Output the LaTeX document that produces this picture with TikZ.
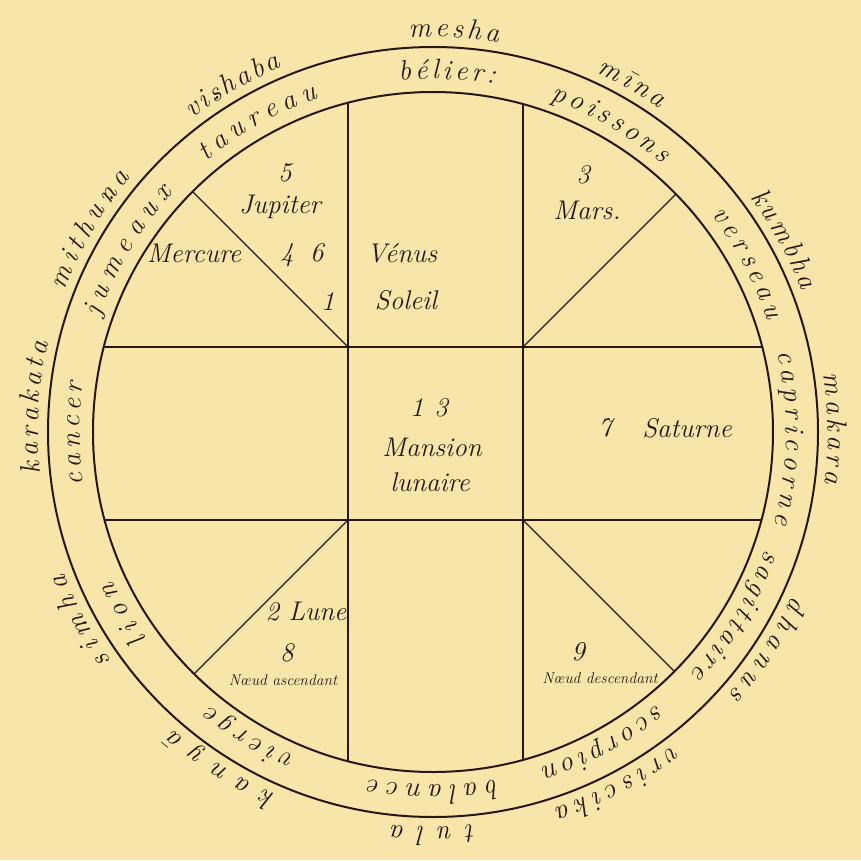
\documentclass[tikz,border=0pt]{standalone}
\usetikzlibrary{decorations.text}
\definecolor{paper}{RGB}{248,229,170}
\definecolor{ink}{RGB}{38,24,16}
\newcommand\udot[1]{\leavevmode\vtop{\offinterlineskip\halign{\hfil##\hfil\cr#1\cr\noalign{\kern-0.15em}.\cr}}}
\newcommand\ringfont{\itshape\fontsize{28}{28}\selectfont}
\newcommand\ringlabel[4]{%
  \path[decorate,decoration={text along path,text color=ink,
     text={|\ringfont|#4},text align=fit to path}]
     (#1:#3) arc[start angle=#1,end angle=#2,radius=#3];}
\begin{document}
\begin{tikzpicture}[x=1pt,y=1pt,
  lab/.style={text=ink,inner sep=0pt,font=\itshape\fontsize{27}{29}\selectfont},
  tiny/.style={text=ink,inner sep=0pt,font=\itshape\fontsize{15.5}{16}\selectfont},
  rim/.style={draw=ink,line width=2pt},
  grid/.style={draw=ink,line width=1.4pt}]
\fill[paper] (-433,-428) rectangle (428,432);
\useasboundingbox (-433,-428) rectangle (428,432);
% rings
\path[rim] (0,0) circle[radius=385];
\path[rim] (0,0) circle[radius=340];
% inner grid
\begin{scope}
\clip (0,0) circle[radius=340];
\path[grid] (-85,400) -- (-85,-400);
\path[grid] (90,400) -- (90,-400);
\path[grid] (-400,85) -- (400,85);
\path[grid] (-400,-88) -- (400,-88);
\path[grid] (-85,85) -- (-400,400);
\path[grid] (90,85) -- (405,400);
\path[grid] (-85,-88) -- (-397,-400);
\path[grid] (90,-88) -- (402,-400);
\end{scope}
% French names inside the ring
\ringlabel{95.5}{80}{353}{bélier:}
\ringlabel{70.5}{49.5}{353}{poissons}
\ringlabel{38}{18.5}{353}{verseau}
\ringlabel{13}{-15}{353}{capricorne}
\ringlabel{-19.5}{-43}{353}{sagittaire}
\ringlabel{-50.5}{-72}{353}{scorpion}
\ringlabel{-79.5}{-100.5}{353}{balance}
\ringlabel{-113}{-129}{353}{vierge}
\ringlabel{-144}{-155}{353}{lion}
\ringlabel{188.5}{172}{353}{cancer}
\ringlabel{161}{137.5}{353}{jumeaux}
\ringlabel{130}{109}{353}{taureau}
% Sanskrit names outside
\ringlabel{93.5}{80.5}{395}{mesha}
\ringlabel{65.5}{55}{395}{mīna}
\ringlabel{36.5}{21}{395}{kumbha}
\ringlabel{8.5}{-7.5}{395}{makara}
\ringlabel{-24.5}{-41.5}{395}{dhanus}
\ringlabel{-52.5}{-72}{395}{vriscika}
\ringlabel{-84}{-96}{395}{tula}
\ringlabel{-113.5}{-131}{395}{kanyā}
\ringlabel{-144.5}{-159}{395}{si{\udot{m}}ha}
\ringlabel{186}{167}{395}{karakata}
\ringlabel{159}{140}{395}{mithu{\udot{n}}a}
\ringlabel{127.5}{112.5}{395}{vi{\udot{s}}haba}
% interior texts
\node[lab] (n5) at (-148,259) {5};
\node[lab] (jup) at (-153,225) {Jupiter};
\node[lab] (mer) at (-239,179) {Mercure};
\node[lab] (n46) at (-131,177) {4\hspace{0.6em}6};
\node[lab] (n1) at (-105,130) {1};
\node[lab] (ven) at (-31,179) {Vénus};
\node[lab] (sol) at (-27,132) {Soleil};
\node[lab] (n3) at (150,257) {3};
\node[lab] (mars) at (154,222) {Mars.};
\node[lab] (n13) at (-4,24) {1\hspace{0.4em}3};
\node[lab] (man) at (-1,-15) {Mansion};
\node[lab] (lun) at (-3,-50) {lunaire};
\node[lab] (n7) at (172,4) {7};
\node[lab] (sat) at (254,4) {Saturne};
\node[lab] (lune) at (-127,-180) {2 Lune};
\node[lab] (n8) at (-146,-221) {8};
\node[tiny] (asc) at (-150,-248) {Nœud ascendant};
\node[lab] (n9) at (145,-220) {9};
\node[tiny] (desc) at (167,-246) {Nœud descendant};
\end{tikzpicture}
\end{document}
